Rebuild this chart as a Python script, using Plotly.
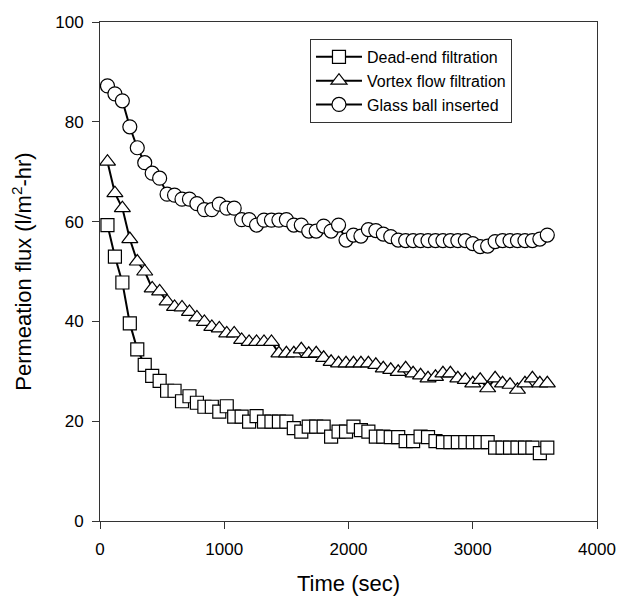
import plotly.graph_objects as go

# sampling times (sec)
time_sec = [
    60, 120, 180, 240, 300, 360, 420, 480, 540, 600,
    660, 720, 780, 840, 900, 960, 1020, 1080, 1140, 1200,
    1260, 1320, 1380, 1440, 1500, 1560, 1620, 1680, 1740, 1800,
    1860, 1920, 1980, 2040, 2100, 2160, 2220, 2280, 2340, 2400,
    2460, 2520, 2580, 2640, 2700, 2760, 2820, 2880, 2940, 3000,
    3060, 3120, 3180, 3240, 3300, 3360, 3420, 3480, 3540, 3600,
]

# permeation flux (l/m2-hr)
dead_end = [
    59.3, 53.0, 47.8, 39.6, 34.4, 31.3, 29.1, 28.1, 26.1, 26.1,
    24.0, 25.0, 23.7, 22.9, 22.9, 21.9, 23.0, 20.9, 20.9, 19.9,
    21.0, 19.9, 19.9, 19.9, 19.9, 18.6, 17.9, 18.9, 18.9, 18.9,
    16.9, 17.9, 17.9, 18.9, 18.2, 17.9, 16.9, 16.9, 16.8, 16.8,
    16.0, 16.0, 16.9, 16.8, 16.0, 15.8, 15.8, 15.8, 15.8, 15.8,
    15.8, 15.8, 14.7, 14.7, 14.7, 14.7, 14.7, 14.7, 13.6, 14.7,
]
vortex_flow = [
    72.0, 65.7, 62.7, 56.5, 52.0, 50.0, 46.6, 46.0, 44.0, 42.9,
    42.8, 41.9, 40.8, 39.9, 38.9, 38.6, 37.6, 37.6, 36.3, 35.9,
    35.9, 35.9, 35.9, 33.6, 33.6, 33.6, 34.4, 33.5, 33.6, 32.7,
    31.9, 31.6, 31.6, 31.6, 31.6, 31.6, 31.3, 30.6, 30.3, 29.9,
    30.6, 29.6, 29.2, 28.6, 28.9, 29.6, 29.6, 28.6, 28.3, 27.6,
    28.3, 26.6, 28.6, 27.6, 27.3, 26.3, 27.6, 28.6, 27.6, 27.6,
]
glass_ball = [
    87.2, 85.6, 84.2, 79.0, 74.8, 71.8, 69.7, 68.7, 65.5, 65.3,
    64.5, 64.5, 63.6, 62.4, 62.4, 63.5, 62.7, 62.7, 60.4, 60.4,
    59.3, 60.3, 60.3, 60.3, 60.4, 59.3, 59.3, 58.1, 58.1, 59.1,
    58.1, 59.3, 56.3, 57.3, 57.1, 58.4, 58.2, 57.5, 57.0, 56.3,
    56.2, 56.2, 56.2, 56.2, 56.2, 56.2, 56.2, 56.2, 56.2, 55.6,
    55.0, 55.1, 56.0, 56.2, 56.2, 56.2, 56.2, 56.2, 56.5, 57.3,
]

series = [
    ("Dead-end filtration", dead_end, "square", 13),
    ("Vortex flow filtration", vortex_flow, "triangle-up", 14),
    ("Glass ball inserted", glass_ball, "circle", 14),
]

FONT = "Liberation Sans, Arial, sans-serif"

fig = go.Figure()
for name, values, symbol, size in series:
    fig.add_trace(go.Scatter(
        x=time_sec, y=values, name=name, mode="lines+markers",
        line=dict(color="black", width=2),
        marker=dict(symbol=symbol, size=size, color="white",
                    line=dict(color="black", width=1.2)),
    ))

axis_common = dict(
    showgrid=False, zeroline=False, showline=True, mirror=True,
    linecolor="#333", linewidth=1, ticks="outside", ticklen=7,
    tickcolor="#333", tickfont=dict(size=17, color="black"),
    automargin=False,
)

# the page body adds an 8px offset, so the figure is 8px smaller than the window
fig.update_layout(
    width=621, height=588,
    margin=dict(l=92, r=32, t=14, b=75),
    paper_bgcolor="white", plot_bgcolor="white",
    font=dict(family=FONT, color="black"),
    xaxis=dict(range=[0, 4000], dtick=1000, ticklabelstandoff=6,
               title=dict(text="Time (sec)", font=dict(size=22), standoff=18),
               **axis_common),
    yaxis=dict(range=[0, 100], dtick=20, ticklabelstandoff=5,
               title=dict(text="Permeation flux (l/m<sup>2</sup>-hr)",
                          font=dict(size=22), standoff=17),
               **axis_common),
    legend=dict(x=0.4225, y=0.966, xanchor="left", yanchor="top",
                bordercolor="#333", borderwidth=1, bgcolor="white",
                font=dict(size=16), tracegroupgap=0, itemwidth=46),
    showlegend=True,
)

fig.write_html("out.html")
